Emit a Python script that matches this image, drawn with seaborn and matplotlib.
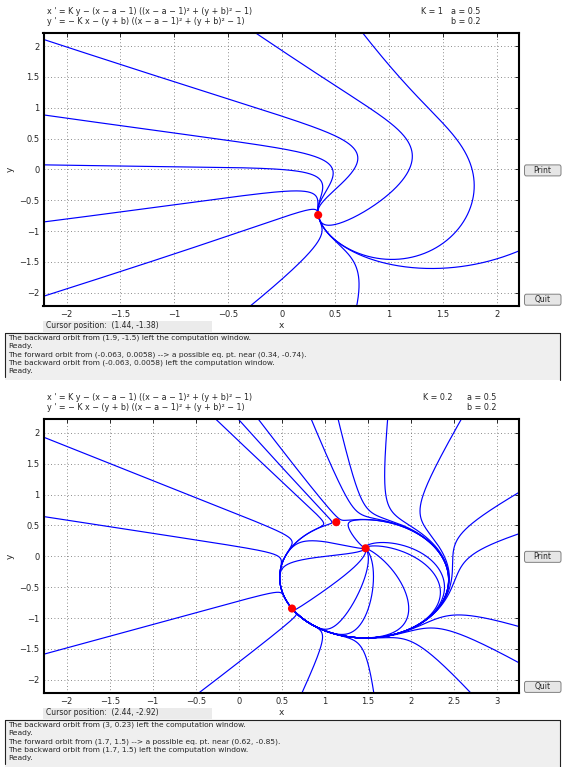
import numpy as np
import pandas as pd
import matplotlib
matplotlib.use('Agg')
import matplotlib.pyplot as plt
import seaborn as sns
from matplotlib.patches import Rectangle, FancyBboxPatch

sns.set_style('white')
plt.rcParams['font.family'] = ['DejaVu Sans']

# system parameters shown in the panels
A_PAR = 0.5
B_PAR = 0.2
K_TOP = 1.0
K_BOT = 0.2

# points picked on each orbit
top_seed_x = [-2.2, -2.2, -0.063, -2.2, -2.2, -0.23, 0.76, 1.9, -0.28, 0.70]
top_seed_y = [2.1, 0.88, 0.0058, -0.85, -2.05, 2.2, 2.2, -1.5, -2.2, -2.2]
top_eq_x = [0.34]
top_eq_y = [-0.74]

bot_seed_x = [-2.25, -2.25, -2.25, -0.45, 0.74, 1.57, 2.69,
              -0.25, 0.01, 0.24, 0.85, 1.16, 1.7, 2.58,
              3.24, 3.0, 3.24, 3.24,
              1.03, 0.95, 1.03, 1.34, 1.53, 1.88, 2.0, 1.8, 1.3]
bot_seed_y = [1.92, 0.64, -1.58, -2.2, -2.2, -2.2, -2.2,
              2.2, 2.2, 2.2, 2.2, 2.2, 1.5, 2.2,
              1.02, 0.23, -1.13, -1.71,
              0.23, -0.01, -0.52, -0.74, -0.74, -0.41, 0.02, 0.21, 0.4]
bot_eq_x = [1.135, 1.476, 0.62]
bot_eq_y = [0.553, 0.13, -0.846]

top_xticks = [-2, -1.5, -1, -0.5, 0, 0.5, 1, 1.5, 2]
bot_xticks = [-2, -1.5, -1, -0.5, 0, 0.5, 1, 1.5, 2, 2.5, 3]
yticks = [-2, -1.5, -1, -0.5, 0, 0.5, 1, 1.5, 2]

top_msgs = ['The backward orbit from (1.9, -1.5) left the computation window.',
            'Ready.',
            'The forward orbit from (-0.063, 0.0058) --> a possible eq. pt. near (0.34, -0.74).',
            'The backward orbit from (-0.063, 0.0058) left the computation window.',
            'Ready.']
bot_msgs = ['The backward orbit from (3, 0.23) left the computation window.',
            'Ready.',
            'The forward orbit from (1.7, 1.5) --> a possible eq. pt. near (0.62, -0.85).',
            'The backward orbit from (1.7, 1.5) left the computation window.',
            'Ready.']

EQ1 = "x ' = K y \u2212 (x \u2212 a \u2212 1) ((x \u2212 a \u2212 1)\u00b2 + (y + b)\u00b2 \u2212 1)"
EQ2 = "y ' = \u2212 K x \u2212 (y + b) ((x \u2212 a \u2212 1)\u00b2 + (y + b)\u00b2 \u2212 1)"

W, H = 563, 767


def field(x, y, k):
    u = x - A_PAR - 1
    v = y + B_PAR
    r = u * u + v * v - 1
    return k * y - u * r, -k * x - v * r


def orbits(xs, ys, k, box, steps=8000, ds=0.006, dtmax=0.05):
    halves = []
    for sgn in (1, -1):
        x = np.array(xs, float)
        y = np.array(ys, float)
        px, py = [x.copy()], [y.copy()]
        for _ in range(steps):
            k1x, k1y = field(x, y, k)
            sp = np.hypot(k1x, k1y)
            h = sgn * np.minimum(dtmax, ds / np.maximum(sp, 1e-12))
            k2x, k2y = field(x + 0.5 * h * k1x, y + 0.5 * h * k1y, k)
            k3x, k3y = field(x + 0.5 * h * k2x, y + 0.5 * h * k2y, k)
            k4x, k4y = field(x + h * k3x, y + h * k3y, k)
            x = x + h / 6 * (k1x + 2 * k2x + 2 * k3x + k4x)
            y = y + h / 6 * (k1y + 2 * k2y + 2 * k3y + k4y)
            out = (x < box[0]) | (x > box[1]) | (y < box[2]) | (y > box[3])
            x = np.where(out, np.nan, x)
            y = np.where(out, np.nan, y)
            px.append(x.copy())
            py.append(y.copy())
            if np.all(np.isnan(x)):
                break
        halves.append((np.array(px), np.array(py)))
    fwd, bwd = halves
    frames = []
    for i in range(len(xs)):
        xx = np.concatenate([bwd[0][::-1, i], fwd[0][1:, i]])
        yy = np.concatenate([bwd[1][::-1, i], fwd[1][1:, i]])
        keep = ~np.isnan(xx) & ~np.isnan(yy)
        frames.append(pd.DataFrame({'x': xx[keep], 'y': yy[keep], 'orbit': i}))
    return pd.concat(frames, ignore_index=True)


def fx(p):
    return p / W


def fy(p):
    return 1 - p / H


def tick_text(v):
    s = '%g' % abs(v)
    return ('\u2212' + s) if v < 0 else s


fig = plt.figure(figsize=(W / 100, H / 100), dpi=100)


def draw_panel(top, bottom, k, sx, sy, ex, ey, xlim, ylim, xticks, kx, ax_a, msgs, cursor):
    ax = fig.add_axes([fx(43.5), fy(bottom), fx(519) - fx(43.5), fy(top) - fy(bottom)])
    box = (xlim[0] - 0.3, xlim[1] + 0.3, ylim[0] - 0.3, ylim[1] + 0.3)
    df = orbits(sx, sy, k, box)
    sns.lineplot(data=df, x='x', y='y', units='orbit', estimator=None, sort=False,
                 color='#0000ff', linewidth=0.85, legend=False, ax=ax)
    sns.scatterplot(x=ex, y=ey, color='red', s=34, edgecolor='none', zorder=5, ax=ax)
    ax.set_xlim(xlim)
    ax.set_ylim(ylim)
    ax.set_xticks(xticks)
    ax.set_xticklabels([tick_text(v) for v in xticks])
    ax.set_yticks(yticks)
    ax.set_yticklabels([tick_text(v) for v in yticks])
    ax.tick_params(direction='in', length=3, width=0.7, top=True, right=True,
                   labelsize=6, pad=3)
    ax.grid(True, linestyle=(0, (1, 3)), color='0.4', linewidth=0.6)
    for sp in ax.spines.values():
        sp.set_visible(True)
        sp.set_color('black')
        sp.set_linewidth(1.5)
    ax.set_xlabel('')
    ax.set_ylabel('')

    mid = (top + bottom) / 2
    fig.text(fx(47.5), fy(top - 22), EQ1, fontsize=5.8, va='center', ha='left')
    fig.text(fx(47.5), fy(top - 11.5), EQ2, fontsize=5.8, va='center', ha='left')
    fig.text(fx(kx), fy(top - 22), 'K = %g' % k, fontsize=5.8, va='center', ha='left')
    fig.text(fx(ax_a), fy(top - 22), 'a = %g' % A_PAR, fontsize=5.8, va='center', ha='left')
    fig.text(fx(ax_a), fy(top - 11.5), 'b = %g' % B_PAR, fontsize=5.8, va='center', ha='left')
    fig.text(fx(10), fy(mid), 'y', fontsize=6.5, va='center', ha='center', rotation=90)
    fig.text(fx(281), fy(bottom + 19.5), 'x', fontsize=6.5, va='center', ha='center')

    # cursor readout
    fig.patches.append(Rectangle((fx(43.3), fy(bottom + 26.5)), fx(211.7) - fx(43.3),
                                 fy(bottom + 15.2) - fy(bottom + 26.5),
                                 transform=fig.transFigure, facecolor='#ebebeb',
                                 edgecolor='none'))
    fig.text(fx(46), fy(bottom + 19.5), cursor, fontsize=5.5, va='center', ha='left')

    # message box
    btop = bottom + 27.5
    bbot = min(bottom + 74.5, H)
    fig.patches.append(Rectangle((fx(5), fy(bbot)), fx(560) - fx(5), fy(btop) - fy(bbot),
                                 transform=fig.transFigure, facecolor='#efefef',
                                 edgecolor='none'))
    for xs_, ys_ in (([5, 560], [btop, btop]), ([5, 5], [btop, bbot - 3]),
                     ([560, 560], [btop, bbot])):
        fig.add_artist(plt.Line2D([fx(v) for v in xs_], [fy(v) for v in ys_],
                                  color='#222222', linewidth=0.8))
    for i, m in enumerate(msgs):
        fig.text(fx(8), fy(btop + 4.8 + 8.3 * i), m, fontsize=5.4, va='center', ha='left')

    # buttons
    for label, cy in (('Print', mid + 1), ('Quit', bottom - 5.8)):
        fig.patches.append(FancyBboxPatch((fx(524.5), fy(cy + 5.5)), fx(561) - fx(524.5),
                                          fy(cy - 5.5) - fy(cy + 5.5),
                                          boxstyle='round,pad=0,rounding_size=0.003',
                                          transform=fig.transFigure, facecolor='#e6e6e6',
                                          edgecolor='#808080', linewidth=0.7))
        fig.text(fx(542.7), fy(cy), label, fontsize=5.5, va='center', ha='center')
    return ax


draw_panel(33.3, 305.5, K_TOP, top_seed_x, top_seed_y, top_eq_x, top_eq_y,
           (-2.215, 2.208), (-2.208, 2.208), top_xticks, 421, 451, top_msgs,
           'Cursor position:  (1.44, -1.38)')
draw_panel(419.0, 692.7, K_BOT, bot_seed_x, bot_seed_y, bot_eq_x, bot_eq_y,
           (-2.27, 3.26), (-2.21, 2.225), bot_xticks, 423, 467, bot_msgs,
           'Cursor position:  (2.44, -2.92)')

fig.savefig('out.png', dpi=100)
